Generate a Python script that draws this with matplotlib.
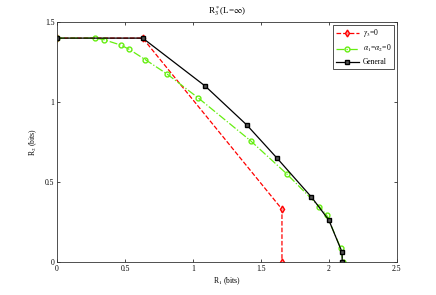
import matplotlib
matplotlib.use("Agg")
import matplotlib.pyplot as plt

# red: gamma_3 = 0
r1_gamma = [0.0, 0.63, 1.655, 1.655]
r2_gamma = [1.40, 1.40, 0.33, 0.0]

# green: alpha_1 = alpha_2 = 0
r1_alpha = [0.0, 0.28, 0.345, 0.47, 0.53, 0.65, 0.81, 1.04, 1.424, 1.689, 1.929, 1.985, 2.086, 2.105]
r2_alpha = [1.40, 1.40, 1.39, 1.356, 1.33, 1.265, 1.175, 1.025, 0.758, 0.552, 0.346, 0.292, 0.089, 0.0]

# black: general
r1_gen = [0.0, 0.63, 1.09, 1.397, 1.62, 1.872, 2.0, 2.098, 2.098]
r2_gen = [1.40, 1.40, 1.10, 0.856, 0.648, 0.406, 0.262, 0.06, 0.0]

legend_labels = [r"$\gamma_3$=0", r"$\alpha_1$=$\alpha_2$=0", "General"]

plt.rcParams['font.family'] = ['Liberation Serif', 'DejaVu Serif']
plt.rcParams['mathtext.fontset'] = 'stix'
plt.rcParams['font.size'] = 5.5

fig = plt.figure(figsize=(4.36, 2.95), dpi=100)
ax = fig.add_axes([0.131, 0.112, 0.779, 0.813])

ax.plot(r1_gamma, r2_gamma, '--', color='red', marker='d', markersize=3.5,
        markerfacecolor='#ff9999', markeredgecolor='red', linewidth=0.9, label=legend_labels[0])
ax.plot(r1_alpha, r2_alpha, '-.', color='#66ee11', marker='o', markersize=3.5,
        markerfacecolor='none', markeredgecolor='#66ee11', linewidth=0.9, label=legend_labels[1])
ax.plot(r1_gen, r2_gen, '-', color='black', marker='s', markersize=3,
        markerfacecolor='#555555', markeredgecolor='black', linewidth=0.9, label=legend_labels[2])

ax.set_xlim(0, 2.5)
ax.set_ylim(0, 1.5)
ax.set_xticks([0, 0.5, 1, 1.5, 2, 2.5])
ax.set_xticklabels(['0', '0.5', '1', '1.5', '2', '2.5'])
ax.set_yticks([0, 0.5, 1, 1.5])
ax.set_yticklabels(['0', '0.5', '1', '1.5'])
ax.tick_params(direction='in', length=2.5, width=0.5, top=True, right=True, pad=2, labelsize=5.5)
for s in ax.spines.values():
    s.set_linewidth(0.6)
    s.set_color('#333333')

ax.set_xlabel(r"R$_1$ (bits)", labelpad=2)
ax.set_ylabel(r"R$_2$ (bits)", labelpad=4)
ax.set_title(r"R$_3^*$(L=$\infty$)", pad=6)

leg = ax.legend(loc='upper right', fancybox=False, edgecolor='black', fontsize=5.5,
                handlelength=3.0, borderpad=0.35, labelspacing=0.5, handletextpad=0.5,
                borderaxespad=0.35)
leg.get_frame().set_linewidth(0.6)

fig.savefig("out.png", dpi=100)
